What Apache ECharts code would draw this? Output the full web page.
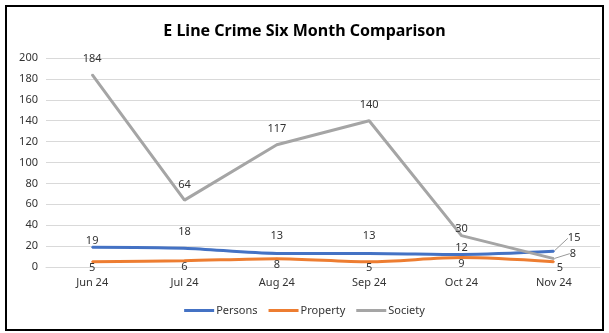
<!DOCTYPE html>
<html>
<head>
<meta charset="utf-8">
<script src="https://cdn.jsdelivr.net/npm/echarts@6/dist/echarts.min.js"></script>
<style>
  html, body { margin: 0; padding: 0; background: #fff; }
  .frame {
    position: absolute;
    left: 5px; top: 5px;
    width: 595px; height: 322px;
    border: 2px solid #000;
  }
  #chart { position: absolute; left: 0; top: 0; width: 609px; height: 333px; }
</style>
</head>
<body>
<div class="frame"></div>
<div id="chart"></div>
<script>
// data
const months = ["Jun 24", "Jul 24", "Aug 24", "Sep 24", "Oct 24", "Nov 24"];
const persons = [19, 18, 13, 13, 12, 15];
const property = [5, 6, 8, 5, 9, 5];
const society = [184, 64, 117, 140, 30, 8];

// how far each data label sits from its point (Excel placed them unevenly)
const personsLabelGap = [0, 10, 11, 11, 0, 0];
const societyLabelGap = [9, 9, 9, 9, 0, 0];

const font = "Noto Sans";
const colors = ["#4472C4", "#ED7D31", "#A5A5A5"];

const chart = echarts.init(document.getElementById("chart"));

const labelBase = { show: true, fontFamily: font, fontSize: 11, color: "#333" };

// top labels, the last one moved to the right with a leader line
function withLabels(values, gaps) {
  return values.map((v, i) => {
    if (i === values.length - 1) {
      return { value: v, label: { position: "right", distance: 3 }, labelLine: { show: true } };
    }
    return { value: v, label: { position: "top", distance: gaps[i] } };
  });
}

const option = {
  animation: false,
  title: {
    text: "E Line Crime Six Month Comparison",
    left: "center",
    top: 18,
    textStyle: { fontFamily: font, fontSize: 16, fontWeight: "bold", color: "#000" }
  },
  legend: {
    bottom: 12,
    left: "center",
    icon: "rect",
    itemWidth: 30,
    itemHeight: 3,
    itemGap: 11,
    textStyle: { fontFamily: font, fontSize: 11, color: "#333", padding: [0, 0, 0, -3] },
    data: ["Persons", "Property", "Society"]
  },
  grid: { left: 46, right: 9, top: 58, bottom: 66 },
  xAxis: {
    type: "category",
    data: months,
    axisTick: { show: false },
    axisLine: { show: true, lineStyle: { color: "#d9d9d9" } },
    axisLabel: { fontFamily: font, fontSize: 11, color: "#333", margin: 10 }
  },
  yAxis: {
    type: "value",
    min: 0,
    max: 200,
    interval: 20,
    axisLabel: { fontFamily: font, fontSize: 11, color: "#333", margin: 8 },
    splitLine: { lineStyle: { color: "#d9d9d9" } }
  },
  series: [
    {
      name: "Persons",
      type: "line",
      data: withLabels(persons, personsLabelGap),
      smooth: 0.3,
      symbol: "circle",
      symbolSize: 2,
      lineStyle: { width: 3, color: colors[0] },
      itemStyle: { color: colors[0] },
      label: Object.assign({ position: "top" }, labelBase),
      labelLine: { show: false, lineStyle: { color: "#999", width: 1 } }
    },
    {
      name: "Property",
      type: "line",
      data: property,
      smooth: 0.3,
      symbol: "circle",
      symbolSize: 2,
      lineStyle: { width: 3, color: colors[1] },
      itemStyle: { color: colors[1] },
      label: Object.assign({ position: "bottom", distance: 0 }, labelBase)
    },
    {
      name: "Society",
      type: "line",
      data: withLabels(society, societyLabelGap),
      symbol: "circle",
      symbolSize: 2,
      lineStyle: { width: 3, color: colors[2] },
      itemStyle: { color: colors[2] },
      label: Object.assign({ position: "top" }, labelBase),
      labelLine: { show: false, lineStyle: { color: "#999", width: 1 } }
    }
  ],
  labelLayout: function (params) {
    if (params.dataIndex === 5 && params.seriesIndex === 0) {
      return { dx: 10, dy: -13 };
    }
    if (params.dataIndex === 5 && params.seriesIndex === 1) {
      return { dx: 6 };
    }
    if (params.dataIndex === 5 && params.seriesIndex === 2) {
      return { dx: 12, dy: -5 };
    }
    return {};
  }
};

chart.setOption(option);
</script>
</body>
</html>
